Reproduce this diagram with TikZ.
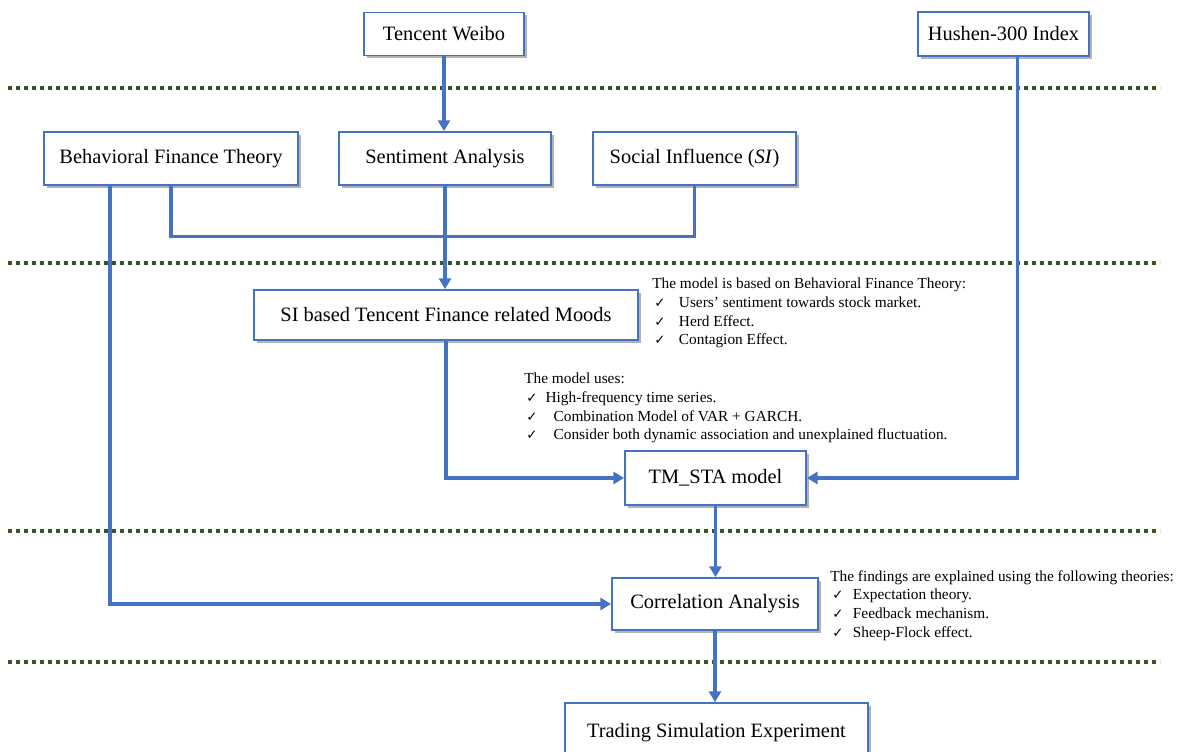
\documentclass[tikz,border=0pt]{standalone}
\usepackage{fontspec}
\setmainfont{Liberation Serif}
\newfontfamily\dejavu{DejaVu Sans}
\usetikzlibrary{shadows,arrows.meta,calc}
\definecolor{boxblue}{RGB}{68,114,196}
\definecolor{sepgreen}{RGB}{56,87,35}
\newcommand{\ck}[2][13pt]{\makebox[#1][l]{\hspace{1.5pt}{\dejavu\fontsize{10}{10}\selectfont ✓}}#2}
\tikzset{
  box/.style={draw=boxblue, line width=1.4pt, fill=white, inner sep=0pt,
    font=\fontsize{15.3}{17}\selectfont,
    drop shadow={shadow xshift=2pt, shadow yshift=-2pt, fill=black, opacity=0.3}},
  conn/.style={draw=boxblue, line width=2.3pt},
  arr/.style={conn, -{Triangle[length=8pt,width=9pt]}},
  sepline/.style={draw=sepgreen, line width=3pt, dash pattern=on 3pt off 3pt},
  note/.style={anchor=north west, inner sep=0pt, align=left,
    font=\fontsize{11.5}{14}\selectfont}
}
\begin{document}
\begin{tikzpicture}[x=0.75pt,y=-0.75pt]
\useasboundingbox[fill=white] (0,0) rectangle (1178,752);
% separators
\draw[sepline] (8,88) -- (1160,88);
\draw[sepline] (8,263) -- (1160,263);
\draw[sepline] (8,531) -- (1160,531);
\draw[sepline] (8,662) -- (1160,662);
% boxes
\node[box, minimum width=120pt, minimum height=32.25pt] (tw) at (444,34) {Tencent Weibo};
\node[box, minimum width=128.25pt, minimum height=33pt] (hs) at (1003.5,34) {Hushen-300 Index};
\node[box, minimum width=190.5pt, minimum height=39.75pt] (bft) at (171,158.5) {Behavioral Finance Theory};
\node[box, minimum width=159pt, minimum height=39.75pt] (sa) at (445,158.5) {Sentiment Analysis};
\node[box, minimum width=152.25pt, minimum height=39.75pt] (si) at (694.5,158.5) {Social Influence (\textit{SI})};
\node[box, minimum width=288pt, minimum height=37.5pt] (moods) at (446,315) {SI based Tencent Finance related Moods};
\node[box, minimum width=135.75pt, minimum height=40.5pt] (tm) at (715.5,478) {TM\_STA model};
\node[box, minimum width=154.5pt, minimum height=39pt] (ca) at (715,604) {Correlation Analysis};
\node[box, minimum width=227.25pt, minimum height=45pt] (ts) at (716.5,733) {\raisebox{3pt}{Trading Simulation Experiment}};
% notes
\node[note] (n1) at (652,278) {The model is based on Behavioral Finance Theory:\\
\ck[20pt]{Users’ sentiment towards stock market.}\\
\ck[20pt]{Herd Effect.}\\
\ck[20pt]{Contagion Effect.}};
\node[note] (n2) at (524,373) {The model uses:\\
\ck[16pt]{High-frequency time series.}\\
\ck[22pt]{Combination Model of VAR + GARCH.}\\
\ck[22pt]{Consider both dynamic association and unexplained fluctuation.}};
\node[note] (n3) at (830,570) {The findings are explained using the following theories:\\
\ck[17pt]{Expectation theory.}\\
\ck[17pt]{Feedback mechanism.}\\
\ck[17pt]{Sheep-Flock effect.}};
% connectors
\draw[arr] (tw.south) -- (tw.south |- sa.north);
\draw[conn] (bft.south) -- ++(0,51) -| (si.south);
\draw[arr] (sa.south) -- (sa.south |- moods.north);
\draw[arr] ($(bft.south)+(-61,0)$) |- (ca.west);
\draw[arr] (moods.south) |- (tm.west);
\draw[arr] ($(hs.south)+(14,0)$) |- (tm.east);
\draw[arr] (tm.south) -- (tm.south |- ca.north);
\draw[arr] (ca.south) -- (ca.south |- ts.north);
\end{tikzpicture}
\end{document}
